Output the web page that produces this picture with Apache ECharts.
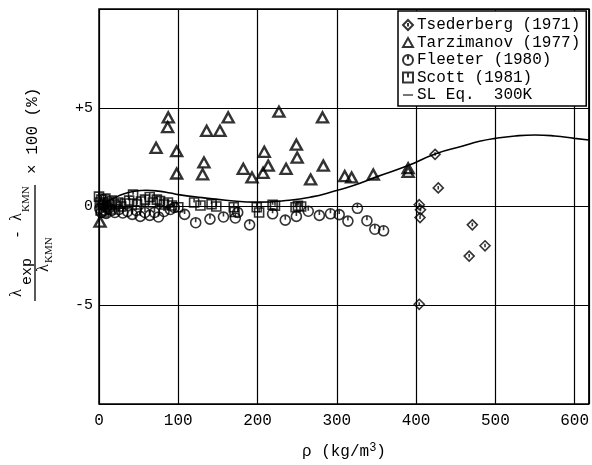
<!DOCTYPE html>
<html>
<head>
<meta charset="utf-8">
<script src="https://cdn.jsdelivr.net/npm/echarts@6/dist/echarts.min.js"></script>
<style>html,body{margin:0;padding:0;background:#fff}#c{width:592px;height:465px}</style>
</head>
<body>
<div id="c"></div>
<script>
// ---- data ----
const xTickValues = [0, 100, 200, 300, 400, 500, 600];
const yTickValues = [-5, 0, 5];
const yTickLabels = ['-5', '0', '+5'];

const seriesNames = ['Tsederberg (1971)', 'Tarzimanov (1977)', 'Fleeter (1980)', 'Scott (1981)', 'SL Eq.  300K'];

const tsederberg = [[404,-4.95],[404,0.09],[405.6,-0.17],[405,-0.56],[424,2.64],[428,0.94],[467,-2.51],[471,-0.93],[487,-1.99]];

const tarzimanov = [[1.3,-0.77],[72,2.97],[86.6,4.02],[87.4,4.51],[98,2.8],[98,1.67],[130.7,1.63],[132.4,2.23],[135.8,3.83],[152.6,3.83],[163,4.51],
  [182,1.91],[193,1.47],[207,1.7],[208.5,2.77],[213.5,2.07],[227,4.8],[236,1.91],[249,3.13],[250,2.48],[267,1.37],[282,4.51],[283,2.07],
  [310,1.54],[318.7,1.47],[346,1.62],[390,1.94],[390,1.75]];

const fleeter = [[1,-0.1],[3,-0.3],[5,0.1],[7,-0.2],[9,-0.35],[12,-0.1],[16,-0.2],[20,-0.3],[25,-0.15],[30,-0.33],[36,-0.25],[42,-0.4],
  [47,-0.2],[52,-0.5],[58,-0.3],[64,-0.45],[70,-0.3],[75,-0.53],[82,-0.25],[90,-0.15],[95,-0.05],[108,-0.4],[122,-0.82],[140,-0.64],
  [157,-0.53],[172,-0.58],[175,-0.3],[190,-0.93],[219,-0.37],[235,-0.69],[249,-0.5],[264,-0.24],[278,-0.45],[292,-0.37],[303,-0.41],
  [314,-0.74],[326,-0.09],[338,-0.72],[348,-1.15],[359,-1.23]];

const scott = [[0,0.5],[1,0.2],[2,-0.2],[3,0.35],[5,0.1],[6,-0.3],[8,0.4],[10,0.0],[12,0.2],[14,-0.15],[16,0.3],[20,0.1],[24,0.2],[28,0.0],
  [33,0.15],[38,0.3],[43,0.6],[48,0.1],[53,0.25],[58,0.35],[64,0.48],[68,0.2],[73,0.35],[77,0.28],[82,0.1],[87,0.2],[92,0.05],[100,-0.04],
  [120,0.2],[128,0.05],[142,0.12],[148,0.0],[170,-0.04],[171,-0.28],[199,-0.04],[202,-0.3],[219,0.09],[222,0.04],[248,-0.04],[251,0.04],[255,0.0]];

const slEq = [[0,0.0],[10,0.25],[20,0.45],[30,0.62],[45,0.77],[60,0.82],[75,0.78],[90,0.68],[100,0.6],[130,0.45],[160,0.32],[200,0.22],
  [240,0.32],[270,0.5],[291,0.71],[320,1.05],[350,1.5],[390,2.07],[424,2.66],[459,3.06],[480,3.3],[500,3.45],[525,3.57],[550,3.62],
  [575,3.57],[600,3.45],[618,3.37]];

// ---- chart ----
const MONO = '"Liberation Mono", "DejaVu Sans Mono", monospace';
const SERIF = '"Liberation Serif", "DejaVu Serif", serif';
const hollow = {color: 'rgba(0,0,0,0)', borderColor: '#000', borderWidth: 1.6};

const symCircle = 'path://M0,5 A5,5 0 1,0 10,5 A5,5 0 1,0 0,5 Z M5,0 L5,4.5';
const symSquare = 'path://M0,0 L10,0 L10,10 L0,10 Z M5,0 L5,5';
const symDiamond = 'path://M5,0 L10,5 L5,10 L0,5 Z M5,3 L5,6.5';
const symTriangle = 'path://M5,0 L10,9 L0,9 Z';
const symLine = 'path://M0,0 L12,0 L12,1.3 L0,1.3 Z';

const chart = echarts.init(document.getElementById('c'), null, {renderer: 'canvas'});
chart.setOption({
  animation: false,
  backgroundColor: '#fff',
  grid: {left: 99, right: 3, top: 9, bottom: 47, show: true, borderColor: '#000', borderWidth: 1.5, containLabel: false},
  xAxis: {
    type: 'value', min: 0, max: 618, interval: 100,
    axisLine: {show: false}, axisTick: {show: false},
    splitLine: {show: true, lineStyle: {color: '#000', width: 1.2}},
    axisLabel: {margin: 9, color: '#000', fontFamily: MONO, fontSize: 16,
      showMaxLabel: false,
      formatter: v => xTickValues.indexOf(v) >= 0 ? String(v) : ''},
    name: '{a|ρ (kg/m}{s|3}{a|)}', nameLocation: 'middle', nameGap: 38,
    nameTextStyle: {rich: {
      a: {fontFamily: MONO, fontSize: 16, color: '#000'},
      s: {fontFamily: MONO, fontSize: 12, color: '#000', verticalAlign: 'top', padding: [0, 0, 8, 0]}
    }}
  },
  yAxis: {
    type: 'value', min: -10, max: 10, interval: 5,
    axisLine: {show: false}, axisTick: {show: false},
    splitLine: {show: true, lineStyle: {color: '#000', width: 1.2}},
    axisLabel: {margin: 6, color: '#000', fontFamily: MONO, fontSize: 15,
      showMinLabel: false, showMaxLabel: false,
      formatter: v => { const i = yTickValues.indexOf(v); return i >= 0 ? yTickLabels[i] : ''; }}
  },
  legend: {
    orient: 'vertical', left: 398, top: 11,
    padding: [6, 6, 3, 4], itemGap: 1.5, itemWidth: 10, itemHeight: 10,
    backgroundColor: '#fff', borderColor: '#000', borderWidth: 1.5,
    textStyle: {fontFamily: MONO, fontSize: 16, color: '#000', lineHeight: 16, padding: [0, 0, 0, -1]},
    data: [
      {name: seriesNames[0]}, {name: seriesNames[1]}, {name: seriesNames[2]}, {name: seriesNames[3]},
      {name: seriesNames[4], icon: symLine, itemStyle: {color: '#000', borderWidth: 0}}
    ]
  },
  graphic: [{
    type: 'group', x: 0, y: 301, rotation: Math.PI / 2,
    children: [
      {type: 'text', x: 4, y: 17, style: {text: 'λ', font: '16px ' + SERIF, fill: '#000', verticalAlign: 'middle'}},
      {type: 'text', x: 16, y: 27, style: {text: 'exp', font: '15px ' + MONO, fill: '#000', verticalAlign: 'middle'}},
      {type: 'text', x: 62, y: 18, style: {text: '-', font: '15px ' + MONO, fill: '#000', verticalAlign: 'middle'}},
      {type: 'text', x: 80, y: 17, style: {text: 'λ', font: '16px ' + SERIF, fill: '#000', verticalAlign: 'middle'}},
      {type: 'text', x: 89, y: 26, style: {text: 'KMN', font: '11px ' + SERIF, fill: '#000', verticalAlign: 'middle'}},
      {type: 'line', shape: {x1: 0, y1: 35, x2: 116, y2: 35}, style: {stroke: '#000', lineWidth: 1.3}},
      {type: 'text', x: 29, y: 44, style: {text: 'λ', font: '16px ' + SERIF, fill: '#000', verticalAlign: 'middle'}},
      {type: 'text', x: 38, y: 49, style: {text: 'KMN', font: '11px ' + SERIF, fill: '#000', verticalAlign: 'middle'}},
      {type: 'text', x: 127, y: 33, style: {text: '× 100 (%)', font: '16px ' + MONO, fill: '#000', verticalAlign: 'middle'}}
    ]
  }],
  series: [
    {name: seriesNames[0], type: 'scatter', data: tsederberg, symbol: symDiamond, symbolSize: 10, itemStyle: hollow},
    {name: seriesNames[1], type: 'scatter', data: tarzimanov, symbol: symTriangle, symbolSize: [11, 10],
      itemStyle: {color: 'rgba(0,0,0,0)', borderColor: '#000', borderWidth: 2.4}},
    {name: seriesNames[2], type: 'scatter', data: fleeter, symbol: symCircle, symbolSize: 10, itemStyle: hollow},
    {name: seriesNames[3], type: 'scatter', data: scott, symbol: symSquare, symbolSize: 9, itemStyle: hollow},
    {name: seriesNames[4], type: 'line', data: slEq, smooth: true, symbol: 'none', showSymbol: false,
      lineStyle: {color: '#000', width: 1.6}, itemStyle: {color: '#000'}}
  ]
});
</script>
</body>
</html>
